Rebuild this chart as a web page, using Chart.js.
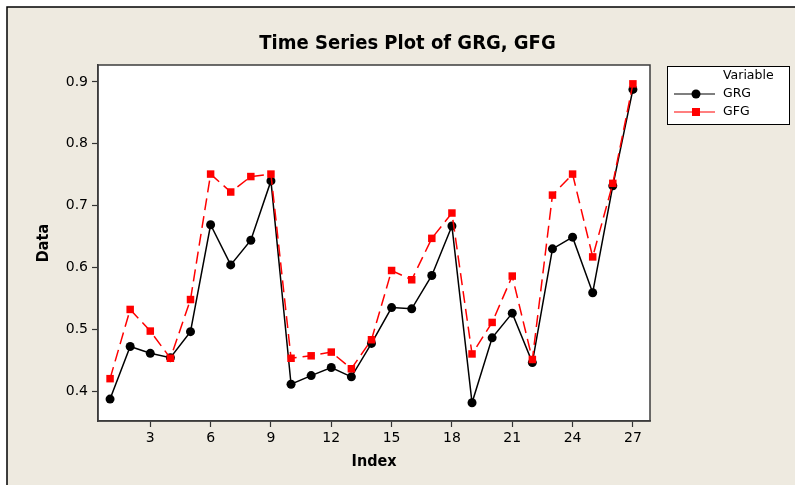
<!DOCTYPE html>
<html>
<head>
<meta charset="utf-8">
<script src="https://cdn.jsdelivr.net/npm/chart.js@4"></script>
<style>
  body { margin: 0; background: #ffffff; }
  canvas { display: block; }
</style>
</head>
<body>
<canvas id="tsChart" width="795" height="485"></canvas>
<script>
'use strict';

// values
const indexes = [1, 2, 3, 4, 5, 6, 7, 8, 9, 10, 11, 12, 13, 14, 15, 16, 17, 18, 19, 20, 21, 22, 23, 24, 25, 26, 27];
const grg = [0.387, 0.472, 0.461, 0.454, 0.496, 0.669, 0.604, 0.644, 0.740, 0.411, 0.425, 0.438, 0.423, 0.477,
  0.535, 0.533, 0.587, 0.667, 0.381, 0.486, 0.526, 0.446, 0.630, 0.649, 0.559, 0.732, 0.888];
const gfg = [0.420, 0.532, 0.497, 0.453, 0.548, 0.751, 0.722, 0.747, 0.751, 0.453, 0.457, 0.463, 0.436, 0.483,
  0.595, 0.580, 0.647, 0.688, 0.460, 0.511, 0.586, 0.451, 0.717, 0.751, 0.617, 0.736, 0.897];
const xTicks = [3, 6, 9, 12, 15, 18, 21, 24, 27];
const yTicks = [0.4, 0.5, 0.6, 0.7, 0.8, 0.9];

const FONT = "'DejaVu Sans', sans-serif";
const TITLE_FONT = "'DejaVu Sans Condensed', 'DejaVu Sans', sans-serif";
const BG = '#eeeae0';

//background, outer frame and plot frame
const framePlugin = {
  id: 'frames',
  beforeDraw(chart) {
    const { ctx, chartArea: a } = chart;
    ctx.save();
    ctx.fillStyle = '#ffffff';
    ctx.fillRect(0, 0, chart.width, chart.height);
    ctx.fillStyle = BG;
    ctx.fillRect(7, 7, chart.width - 7, chart.height - 7);
    ctx.fillStyle = '#ffffff';
    ctx.fillRect(a.left, a.top, a.right - a.left, a.bottom - a.top);
    ctx.strokeStyle = '#000';
    ctx.lineWidth = 1.5;
    ctx.beginPath();
    ctx.moveTo(7, chart.height);
    ctx.lineTo(7, 7);
    ctx.lineTo(chart.width, 7);
    ctx.stroke();
    ctx.restore();
  },
  afterDraw(chart) {
    const { ctx, chartArea: a } = chart;
    ctx.save();
    ctx.strokeStyle = '#3c3c3c';
    ctx.lineWidth = 1.5;
    ctx.strokeRect(a.left, a.top, a.right - a.left, a.bottom - a.top);
    ctx.restore();
  },
};

//Minitab style legend box on the right
const legendPlugin = {
  id: 'varLegend',
  afterDraw(chart) {
    const ctx = chart.ctx;
    const x0 = 667, y0 = 66, w = 122, h = 58;
    ctx.save();
    ctx.fillStyle = '#fff';
    ctx.fillRect(x0, y0, w, h);
    ctx.strokeStyle = '#000';
    ctx.lineWidth = 1;
    ctx.strokeRect(x0 + 0.5, y0 + 0.5, w, h);
    ctx.font = '12.5px ' + FONT;
    ctx.fillStyle = '#000';
    ctx.textBaseline = 'middle';
    ctx.fillText('Variable', 723, y0 + 10);
    chart.data.datasets.forEach((ds, i) => {
      const y = y0 + 28 + i * 18;
      ctx.strokeStyle = ds.borderColor;
      ctx.lineWidth = 1.2;
      ctx.beginPath();
      ctx.moveTo(674, y);
      ctx.lineTo(715, y);
      ctx.stroke();
      ctx.fillStyle = ds.backgroundColor;
      if (ds.pointStyle === 'rect') {
        ctx.fillRect(692, y - 4, 8, 8);
      } else {
        ctx.beginPath();
        ctx.arc(696, y, 4.5, 0, Math.PI * 2);
        ctx.fill();
      }
      ctx.fillStyle = '#000';
      ctx.fillText(ds.label, 723, y);
    });
    ctx.restore();
  },
};

const tsData = {
  datasets: [
    {
      label: 'GRG',
      data: indexes.map((x, i) => ({ x: x, y: grg[i] })),
      borderColor: '#000000',
      backgroundColor: '#000000',
      borderWidth: 1.5,
      pointStyle: 'circle',
      pointRadius: 4.5,
      pointBorderWidth: 0,
      order: 1,
    },
    {
      label: 'GFG',
      data: indexes.map((x, i) => ({ x: x, y: gfg[i] })),
      borderColor: '#ff0000',
      backgroundColor: '#ff0000',
      borderWidth: 1.5,
      borderDash: [12, 6],
      pointStyle: 'rect',
      pointRadius: 5.3,
      pointBorderWidth: 0,
      order: 0,
    },
  ],
};

const tsConfig = {
  type: 'line',
  data: tsData,
  options: {
    responsive: false,
    animation: false,
    layout: { padding: { left: 20, right: 0, top: 21, bottom: 0 } },
    plugins: {
      legend: { display: false },
      tooltip: { enabled: false },
      title: {
        display: true,
        text: 'Time Series Plot of GRG, GFG',
        color: '#000',
        font: { family: TITLE_FONT, size: 20, weight: 'bold' },
        padding: { top: 11, bottom: 9 },
      },
    },
    scales: {
      x: {
        type: 'linear',
        min: 0.4,
        max: 27.85,
        afterBuildTicks: (s) => { s.ticks = xTicks.map(v => ({ value: v })); },
        afterFit: (s) => { s.height = 64; },
        grid: { drawOnChartArea: false, drawTicks: true, tickLength: 6, tickColor: '#333', tickWidth: 1.2 },
        border: { display: true, color: '#3c3c3c', width: 1.5 },
        ticks: { color: '#000', padding: 3, maxRotation: 0, font: { family: FONT, size: 14 } },
        title: { display: true, text: 'Index', color: '#000', padding: { top: 0, bottom: 14 }, font: { family: TITLE_FONT, size: 16, weight: 'bold' } },
      },
      y: {
        min: 0.3515,
        max: 0.9275,
        afterBuildTicks: (s) => { s.ticks = yTicks.map(v => ({ value: v })); },
        afterFit: (s) => { s.width = 78; },
        grid: { drawOnChartArea: false, drawTicks: true, tickLength: 6, tickColor: '#333', tickWidth: 1.2 },
        border: { display: true, color: '#3c3c3c', width: 1.5 },
        ticks: { color: '#000', padding: 4, font: { family: FONT, size: 14 }, callback: (v) => v.toFixed(1) },
        title: { display: true, text: 'Data', color: '#000', padding: { top: 14, bottom: 0 }, font: { family: TITLE_FONT, size: 16, weight: 'bold' } },
      },
      // empty axis that keeps room for the legend box
      spacer: {
        type: 'linear',
        position: 'right',
        display: true,
        grid: { display: false },
        border: { display: false },
        ticks: { display: false },
        afterFit: (s) => { s.width = 145; },
      },
    },
  },
  plugins: [framePlugin, legendPlugin],
};

const tsChart = new Chart(document.getElementById('tsChart'), tsConfig);
</script>
</body>
</html>
